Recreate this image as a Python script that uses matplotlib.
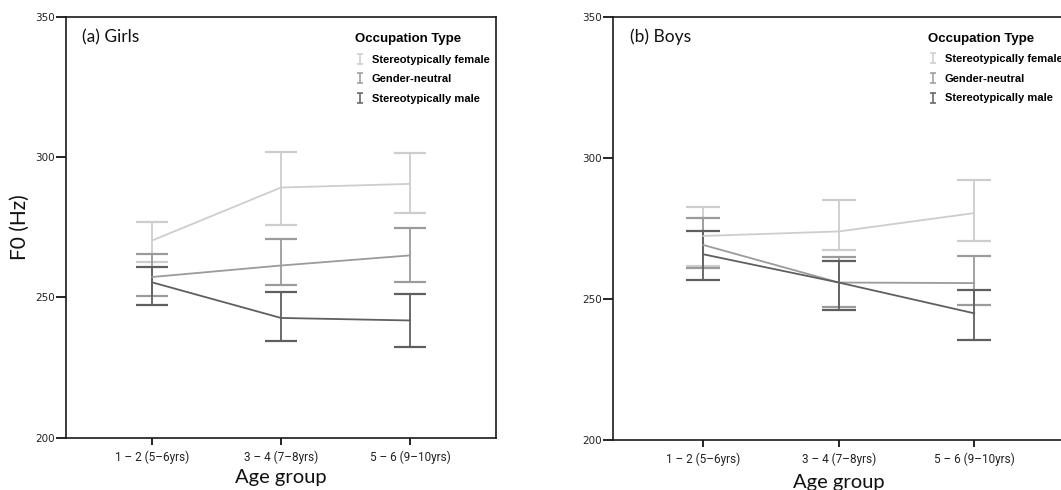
import matplotlib
matplotlib.use("Agg")
import matplotlib.pyplot as plt
from matplotlib.lines import Line2D
from matplotlib.path import Path

# ---------------- data ----------------
age_groups = ["1 \u2013 2 (5\u20136yrs)", "3 \u2013 4 (7\u20138yrs)", "5 \u2013 6 (9\u201310yrs)"]
series_names = ["Stereotypically female", "Gender-neutral", "Stereotypically male"]

girls_female_mean = [270.3, 289.2, 290.5]
girls_female_lo = [262.6, 275.7, 280.1]
girls_female_hi = [276.9, 301.9, 301.4]
girls_neutral_mean = [257.3, 261.4, 265.0]
girls_neutral_lo = [250.6, 254.3, 255.4]
girls_neutral_hi = [265.6, 271.0, 274.6]
girls_male_mean = [255.4, 242.7, 241.8]
girls_male_lo = [247.2, 234.4, 232.4]
girls_male_hi = [260.9, 251.8, 251.2]

boys_female_mean = [272.3, 273.9, 280.4]
boys_female_lo = [261.5, 267.4, 270.6]
boys_female_hi = [282.4, 284.9, 292.2]
boys_neutral_mean = [269.1, 255.8, 255.6]
boys_neutral_lo = [260.9, 247.2, 247.9]
boys_neutral_hi = [278.6, 264.8, 265.2]
boys_male_mean = [265.8, 255.8, 244.9]
boys_male_lo = [256.7, 245.9, 235.5]
boys_male_hi = [274.1, 263.5, 253.2]

y_ticks = [200, 250, 300, 350]

# ---------------- style ----------------
colors = ["#cdcdcd", "#9b9b9b", "#5f5f5f"]
ibeam = Path([(-0.3, -0.5), (0.3, -0.5), (0, -0.5), (0, 0.5), (-0.3, 0.5), (0.3, 0.5)],
             [Path.MOVETO, Path.LINETO, Path.MOVETO, Path.LINETO, Path.MOVETO, Path.LINETO])

fig = plt.figure(figsize=(10.61, 4.90), dpi=100)
ax1 = fig.add_axes([0.0622, 0.1067, 0.4053, 0.8586])
ax2 = fig.add_axes([0.5778, 0.1020, 0.4255, 0.8640])

panels = [
    (ax1, "(a) Girls",
     [(girls_female_mean, girls_female_lo, girls_female_hi),
      (girls_neutral_mean, girls_neutral_lo, girls_neutral_hi),
      (girls_male_mean, girls_male_lo, girls_male_hi)],
     11.2, (0.672, 0.962), -0.095, True),
    (ax2, "(b) Boys",
     [(boys_female_mean, boys_female_lo, boys_female_hi),
      (boys_neutral_mean, boys_neutral_lo, boys_neutral_hi),
      (boys_male_mean, boys_male_lo, boys_male_hi)],
     12.2, (0.698, 0.962), -0.10, False),
]

xpos = list(range(len(age_groups)))
for ax, title, series, capsize, leg_anchor, xlab_y, show_ylabel in panels:
    for (m, lo, hi), c in zip(series, colors):
        yerr = [[mi - l for mi, l in zip(m, lo)], [h - mi for mi, h in zip(m, hi)]]
        ax.errorbar(xpos, m, yerr=yerr, color=c, lw=1.3, elinewidth=1.3,
                    capsize=capsize, capthick=1.6)
    ax.set_xlim(-0.667, 2.667)
    ax.set_ylim(200, 350)
    ax.set_yticks(y_ticks)
    ax.set_yticklabels([str(v) for v in y_ticks], fontsize=7.5, color="#222222",
                       family="DejaVu Sans")
    ax.set_xticks(xpos)
    ax.set_xticklabels(age_groups, fontsize=8.5, color="#222222",
                       family="Roboto")
    ax.tick_params(axis="y", length=7, width=1.2, pad=1)
    ax.tick_params(axis="x", length=5, width=1.2, pad=4)
    for sp in ax.spines.values():
        sp.set_linewidth(1.2)
        sp.set_color("#1a1a1a")
    ax.text(0.037, 0.952, title, transform=ax.transAxes, fontsize=12.5,
            family="Lato", ha="left", va="center", color="#111111")
    ax.set_xlabel("Age group", fontsize=14.5, family="Lato", color="#111111")
    ax.xaxis.set_label_coords(0.5, xlab_y)
    ax.xaxis.label.set_verticalalignment("center")
    if show_ylabel:
        ax.set_ylabel("F0 (Hz)", fontsize=15, family="Lato", color="#111111")
        ax.yaxis.set_label_coords(-0.108, 0.5)
        ax.yaxis.label.set_verticalalignment("center")
    handles = [Line2D([], [], ls="none", marker=ibeam, ms=6.5, mew=1.1,
                      color=c, mfc="none") for c in colors]
    ax.legend(handles, series_names, title="Occupation Type", loc="upper left",
              bbox_to_anchor=leg_anchor, frameon=False, borderaxespad=0,
              borderpad=0, handlelength=0.9, handletextpad=0.6,
              labelspacing=0.86, alignment="left",
              prop={"family": "Liberation Sans", "weight": "bold", "size": 8},
              title_fontproperties={"family": "Liberation Sans", "weight": "bold",
                                    "size": 9.5})

fig.savefig("out.png", dpi=100)
